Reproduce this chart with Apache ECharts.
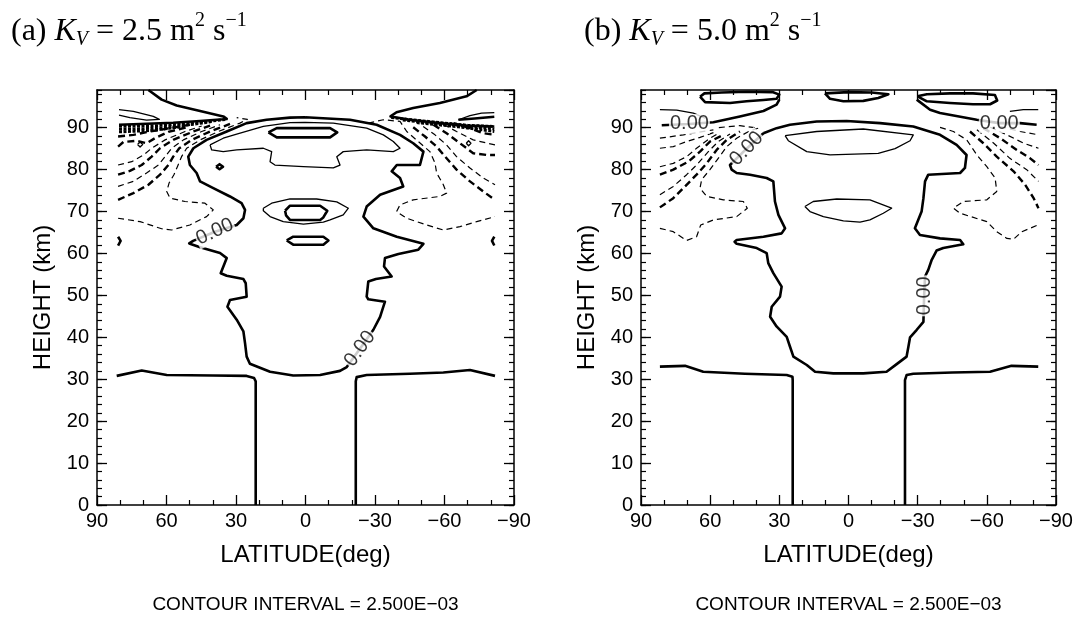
<!DOCTYPE html>
<html><head><meta charset="utf-8">
<script src="https://cdn.jsdelivr.net/npm/echarts@6.0.0/dist/echarts.min.js"></script>
<style>html,body{margin:0;padding:0;background:#fff}#c{width:1079px;height:617px}</style>
</head><body><div id="c"></div>
<script>
// ---------- axis ticks ----------
const latTicks = [90, 60, 30, 0, -30, -60, -90];
const heightTicks = [0, 10, 20, 30, 40, 50, 60, 70, 80, 90];

// ================= PANEL (a) K_V = 2.5 =================
const aZero = [[0.2,92.5],[6.7,92.4],[16.8,91.9],[25.4,91.1],[34,89.1],[42.7,87.1],[48.4,85.1],[50.6,83.1],[49.9,81.1],[47,79.2],[45.5,77.2],[39.8,75.6],[32.6,73.6],[27.6,72],[26.1,70.4],[26.8,68.4],[29.7,66.8],[39.1,65.2],[48.5,63],[50.2,62.4],[45.5,61.5],[36.9,60.1],[34,58.9],[36.6,55.3],[34,54.7],[26.8,53.9],[25.8,52.9],[25.4,49.7],[32.6,48.9],[33.7,47.3],[29.7,44.2],[26.8,41.4],[26.1,38.6],[25.4,35.4],[24,33.7],[15.3,31.8],[5.3,30.9],[-6.3,31],[-14.9,32],[-17.8,32.9],[-23.5,37.3],[-29.3,41.8],[-32.2,44.9],[-34.3,48.5],[-27.1,49.1],[-26.4,49.7],[-27.1,53.3],[-30.4,53.9],[-37.2,54.5],[-33.9,56.9],[-34.3,58.9],[-40.1,59.9],[-48.7,60.9],[-50.9,62.3],[-39.4,64],[-29.3,66],[-25,68.8],[-26.4,71.2],[-32.2,74],[-42.2,76],[-40.8,78],[-37.2,79.6],[-39.4,81.1],[-49.4,81.1],[-50.9,84.3],[-46.5,86.3],[-40.8,88.3],[-30.7,90.7],[-19.2,91.9],[0.2,92.5]];
const aBottomL = [[81.5,30.8],[70.7,32.1],[59.9,31.0],[40,30.9],[25.4,30.8],[22.2,30.3],[21.5,29.5],[21.5,0]];
const aBottomR = [[-21.7,0],[-21.7,29.5],[-22.1,30.5],[-26.4,31.0],[-45,31.3],[-59.5,31.6],[-71.0,32.2],[-81.8,30.8]];
const aInnerThin = [[41.2,85.9],[35.5,87.5],[29.7,88.5],[18.2,90.3],[6.7,91.2],[0.2,91.3],[-12,91.1],[-26.4,89.9],[-33.6,88.3],[-37.9,86.7],[-40.8,85.1],[-37.9,84.3],[-26.4,84.7],[-16.3,84.3],[-13.5,83.1],[-14.9,81.1],[-12,80.4],[0.9,80.7],[13.2,81.1],[15.3,81.9],[14.6,84.3],[18.2,85.1],[29.7,84.7],[35.5,84.3],[40.5,84.7],[41.2,85.9]];
const aCap = [[16,88.9],[12.4,89.9],[-10.6,89.9],[-13.7,88.9],[-10.6,87.7],[12.4,87.7],[16,88.9]];
const aDot = [[38.6,80.7],[37.1,81.3],[35.6,80.7],[37.1,80.1],[38.6,80.7]];
const aMidThin = [[18.2,70.8],[14.6,72.0],[6.7,73.0],[-4.8,73.0],[-13.5,72.3],[-18.5,70.8],[-16.3,69.2],[-10.6,68.0],[-7.7,67.5],[0.9,67.0],[9.6,67.6],[15.3,68.8],[18.2,70.2],[18.2,70.8]];
const aMidThick = [[8.8,70.2],[6.7,71.4],[-6.3,71.4],[-9.4,70.2],[-7.7,68.6],[-6.3,68.0],[6.7,68.0],[8.4,69.1],[8.8,70.2]];
const aLowThick = [[8.1,63.1],[5.3,64.0],[-7.7,64.0],[-9.9,63.1],[-7.7,62.1],[5.3,62.1],[8.1,63.1]];
const aTopL = [[67.8,99],[62.1,96.7],[55.6,95.3],[45.5,94.0],[35.5,92.7],[34.0,92.1],[45.5,91.6],[57.1,91.2],[71.4,90.9],[80.5,90.7]];
const aTopR = [[-73.9,99],[-69.5,97.5],[-58.0,95.9],[-46.5,94.7],[-39.3,93.7],[-36.7,92.7],[-45.1,91.9],[-58.0,91.1],[-69.5,90.5],[-81.5,90.3]];
const aWedgeL = [[80.5,94.3],[74.3,93.9],[65.7,92.7],[63.1,92.0],[68.6,91.8],[75.8,92.4],[80.5,93.0]];
const aWedgeR1 = [[-66,91.9],[-71,92.9],[-76,93.5],[-81.5,93.6]];
const aWedgeR2 = [[-66,91.9],[-73,92.2],[-81.5,92.6]];
const aEdgeL = [[80.9,64.0],[79.8,63.0],[80.9,61.9]];
const aEdgeR = [[-81.5,64.0],[-80.5,63.0],[-81.5,61.9]];
// negative (dashed) contours, left
const aNegL1 = [[80.9,68.4],[71.4,67.6],[62.1,65.9],[57.8,65.6],[49.9,66.8],[42.7,68.8],[39.8,70.4],[43.4,72.0],[52.0,72.4],[58.5,73.2],[59.9,74.8],[58.9,76.8],[56.8,78.8],[55.3,80.7],[53.5,83.1],[51.3,85.1],[45.5,87.1],[37.6,89.1],[28.3,91.1],[25.1,92.0],[29.7,92.4]];
const aNegL2 = [[80.9,72.8],[74.3,74.4],[67.8,76.4],[62.8,78.8],[59.2,81.1],[57.1,83.1],[54.5,85.1],[49.1,87.1],[41.2,89.1],[32.6,90.9]];
const aNegL3 = [[80.9,76.0],[74.3,77.2],[68.6,79.2],[63.5,81.1],[60.6,83.1],[57.8,85.1],[52.7,87.1],[44.8,89.1],[36.9,90.7]];
const aNegL4 = [[80.9,78.8],[75.8,79.7],[70.7,81.1],[66.4,83.1],[62.8,85.1],[57.1,87.1],[48.4,89.1],[41.2,90.5]];
const aNegL5 = [[80.9,81.1],[75.0,81.9],[69.9,83.5],[66.4,85.1],[60.6,87.1],[52.0,89.1],[44.8,90.4]];
const aNegL6 = [[80.9,85.5],[78.6,86.6],[72.9,86.9],[68.6,86.3],[65.0,87.5],[59.2,89.0],[51.3,90.1]];
const aNegL7 = [[80.9,87.9],[74.3,88.3],[67.1,89.1],[58.5,89.9],[49.9,90.7]];
const aNegLoopL = [[72.5,86.0],[71.4,86.6],[70.3,86.0],[71.4,85.4],[72.5,86.0]];
const aDenseL1 = [[80.5,90.3],[64.2,90.5],[45.5,91.3],[34,92.0]];
const aDenseL2 = [[80.5,89.6],[64.2,89.9],[47,90.9],[40,91.5]];
const aDenseL3 = [[80.5,89.0],[67,89.3],[52,90.3]];
// negative (dashed) contours, right
const aNegR1 = [[-27.1,91.1],[-33.6,91.9],[-40.8,91.5],[-43.7,89.1],[-48.7,86.7],[-53.7,84.3],[-55.9,81.6],[-56.6,79.2],[-59.5,76.4],[-60.9,74.4],[-58.0,73.6],[-46.5,72.8],[-40.8,71.6],[-39.3,70.0],[-43.7,68.4],[-52.3,66.8],[-59.5,65.6],[-66.7,66.4],[-73.9,67.6],[-81.8,68.8]];
const aNegR2 = [[-46.5,90.1],[-51.6,87.9],[-56.6,85.5],[-60.9,82.7],[-65.2,80.0],[-71.0,77.2],[-76.7,74.8],[-81.8,72.8]];
const aNegR3 = [[-50.8,90.3],[-55.9,88.3],[-60.9,85.9],[-65.2,83.1],[-71.0,80.4],[-76.7,78.0],[-81.8,76.4]];
const aNegR4 = [[-55.2,90.7],[-60.9,88.7],[-66.7,86.3],[-72.4,83.9],[-78.2,83.5],[-81.8,83.5]];
const aNegR5 = [[-59.5,90.8],[-65.2,89.1],[-72.4,87.1],[-81.8,85.9]];
const aNegR6 = [[-63.8,91.1],[-71.0,89.9],[-76.7,88.7],[-81.8,88.3]];
const aNegLoopR = [[-69.4,86.3],[-70.4,86.9],[-71.4,86.3],[-70.4,85.7],[-69.4,86.3]];
const aDenseR1 = [[-37,92.4],[-55,91.4],[-70,90.6],[-81.5,90.3]];
const aDenseR2 = [[-42,91.8],[-60,90.8],[-81.5,89.7]];
const aDenseR3 = [[-48,91.2],[-66,90.2],[-81.5,89.1]];
const aLabels = [[39.1,65.2],[-23.5,37.3]];

// ================= PANEL (b) K_V = 5.0 =================
const bZero = [[36.9,88.7],[31.2,89.9],[25.4,90.7],[13.8,91.5],[0.8,91.6],[-13.7,91.1],[-28.1,90.3],[-39.7,88.3],[-46.9,85.9],[-51.2,83.5],[-50.5,80.4],[-48.4,79.2],[-34.6,78.8],[-33.2,77.2],[-32.5,73.2],[-31.7,70.0],[-28.8,66.0],[-31.0,64.4],[-39.7,63.6],[-48.4,63.2],[-49.8,62.2],[-41.1,61.3],[-38.2,60.7],[-36.1,58.5],[-34.6,56.1],[-33.2,54.5],[-32.8,49.9],[-32.5,43.7],[-29.6,41.8],[-26.7,40.0],[-26.0,37.8],[-25.2,35.4],[-20.9,33.6],[-16.5,31.8],[-6.4,31.4],[6.6,31.4],[14.5,31.8],[18.1,33.4],[23.9,35.4],[25.4,37.8],[26.8,40.1],[31.2,42.6],[34.0,44.9],[33.3,47.3],[29.7,49.7],[29.0,52.1],[32.6,55.3],[34.8,57.7],[35.5,60.1],[39.8,61.3],[48.5,62.3],[49.4,62.8],[48.5,63.2],[36.9,64.0],[29.0,64.8],[27.5,66.0],[30.4,69.2],[31.9,72.4],[32.6,77.2],[35.5,78.0],[42.7,78.8],[48.5,79.2],[50.7,80.0],[51.4,81.1],[44.2,85.0],[36.9,88.7]];
const bBottomL = [[81.8,33.0],[70.9,33.2],[63.0,31.8],[45,31.3],[26.8,31.0],[24.3,30.6],[24.2,29.8],[24.2,0]];
const bBottomR = [[-24.5,0],[-24.5,29.8],[-25.2,31.0],[-28.1,31.3],[-45,31.6],[-61.4,31.8],[-70.7,33.2],[-82.3,33.0]];
const bUpperThin = [[27.5,88.1],[13.8,89.1],[-6.4,89.7],[-28.1,88.3],[-26.7,86.9],[-20.2,85.0],[-12.9,83.9],[8.0,83.5],[18.1,84.3],[26.1,86.9],[27.5,88.1]];
const bMidThin = [[18.9,71.2],[15.3,72.4],[5.1,73.0],[-9.3,72.8],[-18.7,70.8],[-15.1,69.6],[-9.3,68.0],[-5.0,67.5],[2.2,67.8],[10.9,68.8],[16.7,70.0],[18.9,71.2]];
const bTopLoopL = [[64.4,97.4],[62.2,96.1],[51.4,95.9],[44.2,96.3],[36.9,96.6],[31.2,96.9],[30.0,97.9],[33,98.5],[44,98.6],[55,98.4],[62.5,98.2],[64.4,97.4]];
const bTopLoopC = [[10.2,98.2],[8.0,96.9],[2.2,96.3],[-6.4,96.4],[-12.9,97.1],[-17.3,98.0],[-10,98.4],[0,98.5],[10.2,98.2]];
const bTopLoopR = [[-29.9,97.5],[-34,96.3],[-44,95.9],[-54,95.6],[-61.4,95.6],[-64.5,96.5],[-63.5,97.8],[-54,98.2],[-44,98.2],[-34,98.0],[-29.9,97.5]];
const bZeroTopL = [[81,90.6],[69,90.9],[58.6,91.3],[47.1,92.7],[36.9,94.0],[31.2,95.5],[30.0,96.7]];
const bZeroTopR = [[-81.6,90.7],[-74.4,91.1],[-65.4,91.1],[-55.6,91.9],[-39.7,93.5],[-35.4,94.3],[-29.6,96.7]];
const bThinTopL = [[81.8,94.3],[74.5,94.2],[67.3,93.5],[62.2,92.3]];
const bThinTopR = [[-70.0,93.9],[-75.8,94.3],[-82.3,94.3]];
const bNegL1 = [[81.8,66.0],[76.0,65.2],[70.2,63.1],[65.9,64.0],[64.1,66.8],[58.6,68.0],[48.5,68.8],[43.9,70.8],[45.6,72.4],[54.3,72.8],[61.5,73.6],[64.4,75.6],[63.7,77.6],[60.1,80.0],[56.5,82.7],[52.8,85.5],[48.5,87.5],[42.7,89.3],[39.1,89.9],[47.1,90.5],[57,90.0]];
const bNegL2 = [[81.8,71.0],[76.0,73.2],[70.9,76.0],[65.9,78.8],[61.5,81.5],[57.2,84.7],[52.8,87.1],[47.1,89.1]];
const bNegL3 = [[81.8,74.0],[76.0,76.0],[70.2,78.8],[65.9,81.1],[60.8,84.3],[56.5,86.7],[51.4,88.5]];
const bNegL4 = [[81.8,78.8],[76.0,80.0],[69.5,81.9],[64.4,84.3],[60.1,86.7],[54.3,88.3]];
const bNegL5 = [[81.8,80.7],[76.0,81.5],[70.2,83.1],[65.9,85.1],[60.1,87.5],[56,88.8]];
const bNegL6 = [[81.8,85.1],[76.0,85.5],[70.2,86.7],[64.4,87.7],[57.2,89.1]];
const bNegL7 = [[81.8,87.5],[71.6,88.3],[58.6,89.5]];
const bNegR1 = [[-39.7,90.1],[-45.5,89.1],[-51.3,87.1],[-55.7,83.5],[-60.0,80.7],[-63.6,78.0],[-64.3,74.8],[-60.0,72.8],[-49.9,72.4],[-45.5,70.8],[-48.4,69.6],[-60.0,67.6],[-64.3,65.2],[-68.7,63.6],[-71.6,63.4],[-75.2,65.2],[-81.7,66.7]];
const bNegR2 = [[-52.7,89.1],[-58.5,86.3],[-64.3,83.1],[-71.6,79.6],[-76.6,76.4],[-80.3,73.2],[-82.4,70.8]];
const bNegR3 = [[-55.7,89.5],[-63.0,86.3],[-70.0,82.7],[-77.3,80.0],[-82.4,77.2]];
const bNegR4 = [[-58.5,89.9],[-65.8,87.5],[-73.0,84.7],[-78.8,82.7],[-82.4,81.1]];
const bNegR5 = [[-61.5,90.1],[-68.7,88.3],[-76.0,86.3],[-82.4,85.1]];
const bNegR6 = [[-65.8,90.3],[-74.4,89.1],[-82.4,88.3]];
const bLabels = [[44.2,85.0],[-33.0,49.9],[69.0,90.9],[-65.4,91.1]];

// ---------- styling / building ----------
const STY = {
  thick: {width: 2.6, type: 'solid'},
  thin: {width: 1.3, type: 'solid'},
  thickDash: {width: 2.4, type: [7, 4]},
  thinDash: {width: 1.2, type: [6, 4]},
  dense: {width: 2.8, type: [3, 1.5]}
};
const panels = [
  {
    lines: [
      [aZero,'thick'],[aBottomL,'thick'],[aBottomR,'thick'],[aInnerThin,'thin'],[aCap,'thick'],[aDot,'thick'],
      [aMidThin,'thin'],[aMidThick,'thick'],[aLowThick,'thick'],[aTopL,'thick'],[aTopR,'thick'],
      [aWedgeL,'thin'],[aWedgeR1,'thin'],[aWedgeR2,'thick'],[aEdgeL,'thick'],[aEdgeR,'thick'],
      [aNegL1,'thinDash'],[aNegL2,'thickDash'],[aNegL3,'thinDash'],[aNegL4,'thickDash'],[aNegL5,'thinDash'],
      [aNegL6,'thickDash'],[aNegL7,'thickDash'],[aNegLoopL,'thin'],[aDenseL1,'dense'],[aDenseL2,'dense'],[aDenseL3,'dense'],
      [aNegR1,'thinDash'],[aNegR2,'thickDash'],[aNegR3,'thinDash'],[aNegR4,'thickDash'],[aNegR5,'thinDash'],
      [aNegR6,'thickDash'],[aNegLoopR,'thin'],[aDenseR1,'dense'],[aDenseR2,'dense'],[aDenseR3,'dense']
    ],
    labels: aLabels, rot: [25, 54]
  },
  {
    lines: [
      [bZero,'thick'],[bBottomL,'thick'],[bBottomR,'thick'],[bUpperThin,'thin'],[bMidThin,'thin'],
      [bTopLoopL,'thick'],[bTopLoopC,'thick'],[bTopLoopR,'thick'],[bZeroTopL,'thick'],[bZeroTopR,'thick'],
      [bThinTopL,'thin'],[bThinTopR,'thin'],
      [bNegL1,'thinDash'],[bNegL2,'thickDash'],[bNegL3,'thinDash'],[bNegL4,'thickDash'],[bNegL5,'thinDash'],[bNegL6,'thinDash'],[bNegL7,'thinDash'],
      [bNegR1,'thinDash'],[bNegR2,'thickDash'],[bNegR3,'thinDash'],[bNegR4,'thickDash'],[bNegR5,'thinDash'],[bNegR6,'thinDash']
    ],
    labels: bLabels, rot: [46, 90, 0, 0]
  }
];

const SANS = '"Liberation Sans", Arial, sans-serif';
const SERIF = '"Liberation Serif", "Times New Roman", serif';
const grids = [
  {left: 97, top: 90, width: 417, height: 415},
  {left: 641, top: 90, width: 415, height: 415}
];
const xAxis = [], yAxis = [], series = [];
const fmtLat = v => (v < 0 ? '\u2212' + (-v) : String(v));
grids.forEach((g, gi) => {
  const xBase = {gridIndex: gi, type: 'value', min: -90, max: 90, interval: 30, inverse: true,
    splitLine: {show: false},
    axisLine: {show: true, onZero: false, lineStyle: {color: '#000', width: 1.5}},
    axisTick: {show: true, inside: true, length: 10, lineStyle: {color: '#000', width: 1.3}},
    minorTick: {show: true, splitNumber: 3, length: 5, lineStyle: {color: '#000', width: 1.2}}};
  xAxis.push(Object.assign({}, xBase, {position: 'bottom',
    name: 'LATITUDE(deg)', nameLocation: 'middle', nameGap: 38,
    nameTextStyle: {fontFamily: SANS, fontSize: 24, color: '#000'},
    axisLabel: {show: true, margin: 6, fontFamily: SANS, fontSize: 20, color: '#000', formatter: fmtLat}}));
  xAxis.push(Object.assign({}, xBase, {position: 'top', axisLabel: {show: false}}));
  const yMajor = {gridIndex: gi, type: 'value', min: 0, max: 99, interval: 10,
    splitLine: {show: false},
    axisLine: {show: true, onZero: false, lineStyle: {color: '#000', width: 1.5}},
    axisTick: {show: true, inside: true, length: 10, lineStyle: {color: '#000', width: 1.3}}};
  const yMinor = {gridIndex: gi, type: 'value', min: 0, max: 99, interval: 2,
    splitLine: {show: false}, axisLine: {show: false, onZero: false}, axisLabel: {show: false},
    axisTick: {show: true, inside: true, length: 5, lineStyle: {color: '#000', width: 1.2}}};
  yAxis.push(Object.assign({}, yMajor, {position: 'left',
    name: 'HEIGHT (km)', nameLocation: 'middle', nameGap: 42,
    nameTextStyle: {fontFamily: SANS, fontSize: 24, color: '#000'},
    axisLabel: {show: true, margin: 8, fontFamily: SANS, fontSize: 20, color: '#000', showMaxLabel: false,
      formatter: v => (heightTicks.indexOf(v) >= 0 ? String(v) : '')}}));
  yAxis.push(Object.assign({}, yMinor, {position: 'left'}));
  yAxis.push(Object.assign({}, yMajor, {position: 'right', axisLabel: {show: false}}));
  yAxis.push(Object.assign({}, yMinor, {position: 'right'}));

  const xi = gi * 2, yi = gi * 4;
  panels[gi].lines.forEach(([data, kind]) => {
    const s = STY[kind];
    series.push({type: 'line', xAxisIndex: xi, yAxisIndex: yi, data: data, showSymbol: false, symbol: 'none',
      silent: true, z: 3, lineStyle: {color: '#000', width: s.width, type: s.type, cap: 'butt', join: 'round'}});
  });
  panels[gi].labels.forEach((p, li) => {
    series.push({type: 'scatter', xAxisIndex: xi, yAxisIndex: yi, data: [p], symbolSize: 1, silent: true, z: 10,
      itemStyle: {color: 'rgba(0,0,0,0)'},
      label: {show: true, position: 'inside', formatter: '0.00', rotate: panels[gi].rot[li],
        fontFamily: SANS, fontSize: 20, color: '#000', backgroundColor: '#fff', padding: [0, 1]}});
  });
});

const richT = {
  t: {fontFamily: SERIF, fontSize: 32, color: '#000', verticalAlign: 'bottom', padding: [5, 0, 2, 0]},
  k: {fontFamily: SERIF, fontStyle: 'italic', fontSize: 32, color: '#000', verticalAlign: 'bottom', padding: [5, 0, 2, 0]},
  v: {fontFamily: SERIF, fontStyle: 'italic', fontSize: 20, color: '#000', verticalAlign: 'bottom'},
  s: {fontFamily: SERIF, fontSize: 20, color: '#000', verticalAlign: 'top'}
};
const chart = echarts.init(document.getElementById('c'), null, {renderer: 'canvas'});
chart.setOption({
  animation: false,
  backgroundColor: '#fff',
  title: [
    {text: '{t|(a) }{k|K}{v|V}{t| = 2.5 m}{s|2}{t| s}{s|\u22121}', left: 6, top: 6,
      textStyle: {fontFamily: SERIF, fontSize: 32, fontWeight: 'normal', color: '#000', rich: richT}},
    {text: '{t|(b) }{k|K}{v|V}{t| = 5.0 m}{s|2}{t| s}{s|\u22121}', left: 579, top: 6,
      textStyle: {fontFamily: SERIF, fontSize: 32, fontWeight: 'normal', color: '#000', rich: richT}}
  ],
  grid: grids,
  xAxis: xAxis,
  yAxis: yAxis,
  series: series,
  graphic: [
    {type: 'text', x: 305.5, y: 605, style: {text: 'CONTOUR INTERVAL = 2.500E\u221203', font: '19px ' + SANS, fill: '#000', align: 'center', verticalAlign: 'middle'}},
    {type: 'text', x: 848.5, y: 605, style: {text: 'CONTOUR INTERVAL = 2.500E\u221203', font: '19px ' + SANS, fill: '#000', align: 'center', verticalAlign: 'middle'}}
  ]
});
</script></body></html>
